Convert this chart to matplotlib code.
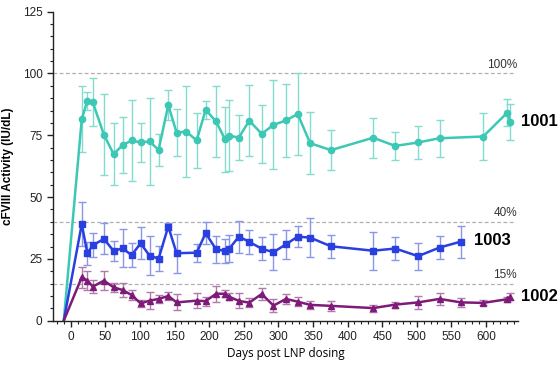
import matplotlib
matplotlib.use('Agg')
import matplotlib.pyplot as plt
from matplotlib.ticker import MultipleLocator

# days post dosing and mean activity (IU/dL) +/- SD
days_1001 = [-10, 16, 24, 32, 48, 62, 75, 88, 101, 114, 127, 141, 153, 167, 182, 195, 210,
             223, 229, 243, 258, 276, 293, 311, 328, 346, 376, 437, 469, 502, 533, 596, 631, 635]
act_1001 = [0, 81.5, 88.9, 88.3, 75.2, 67.4, 71.0, 72.9, 72.1, 72.5, 69.1, 87.2, 76.1, 76.5, 72.9,
            85.3, 80.6, 73.4, 74.8, 74.1, 80.9, 75.6, 79.2, 81.0, 83.6, 71.8, 69.0, 74.0, 70.7,
            72.1, 73.8, 74.5, 84.2, 80.3]
sd_1001 = [0, 13.3, 3.6, 9.7, 16.3, 12.7, 11.4, 16.4, 7.9, 17.7, 6.5, 6.2, 9.5, 18.4, 11.3,
           3.6, 14.3, 13.2, 14.4, 9.0, 14.3, 11.8, 18.0, 14.8, 16.4, 12.6, 8.0, 8.1, 5.8, 6.5,
           7.5, 9.6, 5.3, 7.2]

days_1003 = [-10, 16, 24, 32, 48, 62, 75, 88, 101, 114, 127, 141, 153, 182, 195, 210, 223, 229,
             243, 258, 276, 293, 311, 328, 346, 376, 437, 469, 502, 533, 564]
act_1003 = [0, 39.1, 27.3, 30.5, 33.1, 28.2, 29.3, 26.5, 31.3, 26.3, 25.1, 38.1, 27.3, 27.5,
            35.4, 28.9, 28.2, 29.1, 34.0, 31.9, 29.1, 27.7, 30.9, 34.0, 33.6, 30.1, 28.3, 29.2,
            26.1, 29.6, 32.0]
sd_1003 = [0, 9.0, 4.7, 4.8, 6.3, 4.0, 7.7, 4.9, 6.5, 7.9, 5.1, 1.5, 7.9, 3.7, 4.5, 5.5, 4.8,
           5.4, 6.5, 4.9, 4.6, 7.3, 5.8, 4.2, 7.9, 4.7, 7.6, 4.7, 5.4, 4.7, 6.5]

days_1002 = [-10, 16, 24, 32, 48, 62, 75, 88, 101, 114, 127, 141, 153, 182, 195, 210, 223, 229,
             243, 258, 276, 293, 311, 328, 346, 376, 437, 469, 502, 533, 564, 596, 631, 635]
act_1002 = [0, 17.6, 16.2, 13.8, 16.2, 13.5, 12.4, 10.4, 7.0, 8.1, 8.8, 10.0, 7.4, 8.1, 7.9,
            10.9, 10.9, 9.7, 8.0, 7.3, 10.8, 6.1, 8.8, 7.7, 6.4, 6.0, 5.1, 6.5, 7.4, 8.8, 7.4,
            7.2, 8.7, 9.7]
sd_1002 = [0, 4.2, 3.9, 2.5, 3.9, 1.7, 2.9, 2.2, 1.3, 3.4, 1.6, 1.5, 3.2, 3.0, 1.8, 3.3, 1.5,
           1.5, 3.0, 1.9, 2.3, 2.5, 2.0, 1.7, 1.5, 1.9, 1.4, 1.2, 2.5, 2.3, 1.8, 1.0, 1.0, 1.5]

ref_levels = [100, 40, 15]
ref_labels = ["100%", "40%", "15%"]

plt.rcParams['font.family'] = ['Liberation Sans', 'DejaVu Sans']

fig = plt.figure(figsize=(5.6, 3.65), dpi=100)
ax = fig.add_axes([0.0946, 0.1214, 0.830, 0.8466])

for lvl in ref_levels:
    ax.axhline(lvl, xmin=0, xmax=0.995, color="#b0b0b0", linestyle=(0, (3, 2)), linewidth=0.9, zorder=1)
for lvl, lab in zip(ref_levels, ref_labels):
    ax.text(645, lvl + 1.2, lab, ha="right", va="bottom", fontsize=8.5, color="#333333")

series = [
    (days_1001, act_1001, sd_1001, "#3cc8b4", "#84dccf", "o", 4.5),
    (days_1003, act_1003, sd_1003, "#2a3fe0", "#8a96e8", "s", 5),
    (days_1002, act_1002, sd_1002, "#7e1a78", "#b07aac", "^", 4.5),
]
for d, a, s, col, ecol, mk, ms in series:
    ax.errorbar(d[1:], a[1:], yerr=s[1:], fmt="none", ecolor=ecol, elinewidth=1,
                capsize=3, capthick=1, zorder=2)
    ax.plot(d, a, color=col, linewidth=1.8, zorder=3)
    ax.plot(d[1:], a[1:], linestyle="none", marker=mk, markersize=ms, color=col, zorder=4)

ax.text(651, 80.4, "1001", fontsize=12, fontweight="bold", va="center", ha="left", clip_on=False)
ax.text(583, 32.5, "1003", fontsize=12, fontweight="bold", va="center", ha="left")
ax.text(651, 9.6, "1002", fontsize=12, fontweight="bold", va="center", ha="left", clip_on=False)

ax.set_xlim(-25.6, 646)
ax.set_ylim(0, 125)
ax.xaxis.set_minor_locator(MultipleLocator(10))
ax.yaxis.set_major_locator(MultipleLocator(25))
ax.yaxis.set_minor_locator(MultipleLocator(5))
ax.set_xticks(range(0, 601, 50))
ax.tick_params(which="major", length=4.5, width=1, labelsize=8.5, colors="#222222", pad=3)
ax.tick_params(which="minor", length=2.5, width=0.8, colors="#222222")
for side in ["top", "right"]:
    ax.spines[side].set_visible(False)
for side in ["left", "bottom"]:
    ax.spines[side].set_linewidth(1)
    ax.spines[side].set_color("#222222")

ax.set_ylabel("cFVIII Activity (IU/dL)", fontsize=8.5, fontweight="bold", labelpad=6)
ax.set_xlabel("Days post LNP dosing", fontsize=8.5, family=["Open Sans", "DejaVu Sans"], labelpad=3)

fig.savefig("out.png", dpi=100)
plt.close(fig)
